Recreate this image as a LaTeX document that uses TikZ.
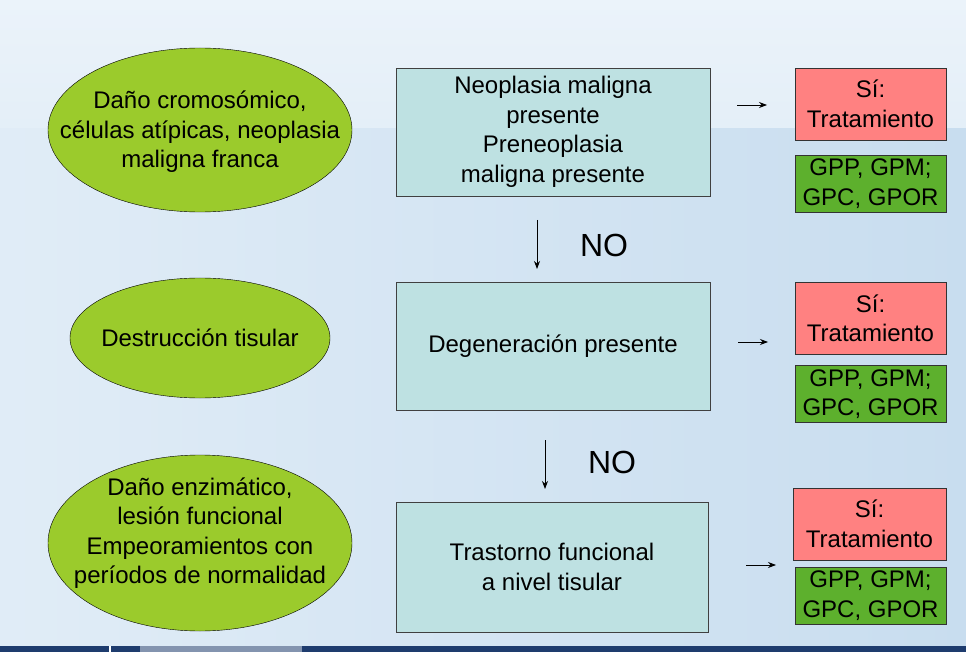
\documentclass[tikz,border=0pt]{standalone}
\usepackage{fontspec}
\setmainfont{Liberation Sans}
\usepackage{xcolor}
\usetikzlibrary{shapes.geometric, arrows.meta}

\definecolor{fondo}{HTML}{C8DDEF}
\definecolor{fondoclaro}{HTML}{EBF3FA}
\definecolor{verdeoval}{HTML}{9BCB2C}
\definecolor{celeste}{HTML}{BEE1E2}
\definecolor{rojo}{HTML}{FF8181}
\definecolor{verde}{HTML}{5DB02D}
\definecolor{marino}{HTML}{1E3C6E}

\begin{document}
\begin{tikzpicture}[x=1pt, y=-1pt,
    every node/.style={font=\fontsize{24}{29.5}\selectfont, align=center, text=black},
    oval/.style={draw=black, fill=verdeoval},
    caja/.style={rectangle, draw=black!75, fill=celeste, minimum width=314pt, minimum height=128pt},
    sitrat/.style={rectangle, draw=black!80, fill=rojo, minimum width=151pt, minimum height=72pt, inner sep=0pt},
    grupos/.style={rectangle, draw=black!80, fill=verde, minimum width=151pt, minimum height=57pt, inner sep=0pt},
    flecha/.style={-{Stealth[length=8pt, width=6pt]}, line width=0.8pt},
    rotulo/.style={font=\fontsize{32}{34}\selectfont}]

    % fondo
    \useasboundingbox (0,0) rectangle (966,652);
    \shade[left color=fondoclaro!70!fondo, right color=fondo] (0,0) rectangle (966,652);
    \shade[top color=fondoclaro, bottom color=fondoclaro!80!fondo] (0,0) rectangle (966,128);
    \fill[marino] (0,646) rectangle (966,652);
    \fill[marino!55!white] (140,646) rectangle (302,652);
    \draw[white, line width=1.2pt] (110,646) -- (110,652);

    % ovalos de la izquierda
    \draw[oval] (200,130) ellipse [x radius=152pt, y radius=82pt];
    \draw[oval] (200,338) ellipse [x radius=130pt, y radius=60pt];
    \draw[oval] (200,543) ellipse [x radius=152pt, y radius=88pt];
    \node (dano) at (200,132)
        {Daño cromosómico,\\células atípicas, neoplasia\\maligna franca};
    \node (destruccion) at (200,338) {Destrucción tisular};
    \node (enzima) at (200,533)
        {Daño enzimático,\\lesión funcional\\Empeoramientos con\\períodos de normalidad};

    % cajas centrales
    \node[caja] (neoplasia) at (553,132)
        {Neoplasia maligna\\presente\\Preneoplasia\\maligna presente};
    \node[caja] (degeneracion) at (553,346) {Degeneración presente};
    \node[caja, minimum width=312pt, minimum height=130pt] (trastorno) at (552,567)
        {Trastorno funcional\\ a nivel tisular};

    % cajas de la derecha
    \node[sitrat] (si1) at (870.5,104) {Sí:\\Tratamiento};
    \node[grupos] (gp1) at (870.5,183.5) {GPP, GPM;\\GPC, GPOR};
    \node[sitrat] (si2) at (870.5,318.5) {Sí:\\Tratamiento};
    \node[grupos] (gp2) at (870.5,394) {GPP, GPM;\\GPC, GPOR};
    \node[sitrat, minimum width=153pt] (si3) at (869.5,524) {Sí:\\Tratamiento};
    \node[grupos] (gp3) at (870.5,595.5) {GPP, GPM;\\GPC, GPOR};

    % flechas
    \coordinate (a1) at (737,105);
    \coordinate (b1) at (767,105);
    \coordinate (a2) at (738,342);
    \coordinate (b2) at (768,342);
    \coordinate (a3) at (746,565);
    \coordinate (b3) at (776,565);
    \foreach \i in {1,2,3}
        \draw[flecha] (a\i) -- (b\i);

    \coordinate (c1) at (537,220);
    \coordinate (d1) at (537,269);
    \coordinate (c2) at (545,440);
    \coordinate (d2) at (545,489);
    \draw[flecha] (c1) -- (d1);
    \draw[flecha] (c2) -- (d2);
    \node[rotulo] (no1) at (604,245) {NO};
    \node[rotulo] (no2) at (612,462) {NO};
\end{tikzpicture}
\end{document}
